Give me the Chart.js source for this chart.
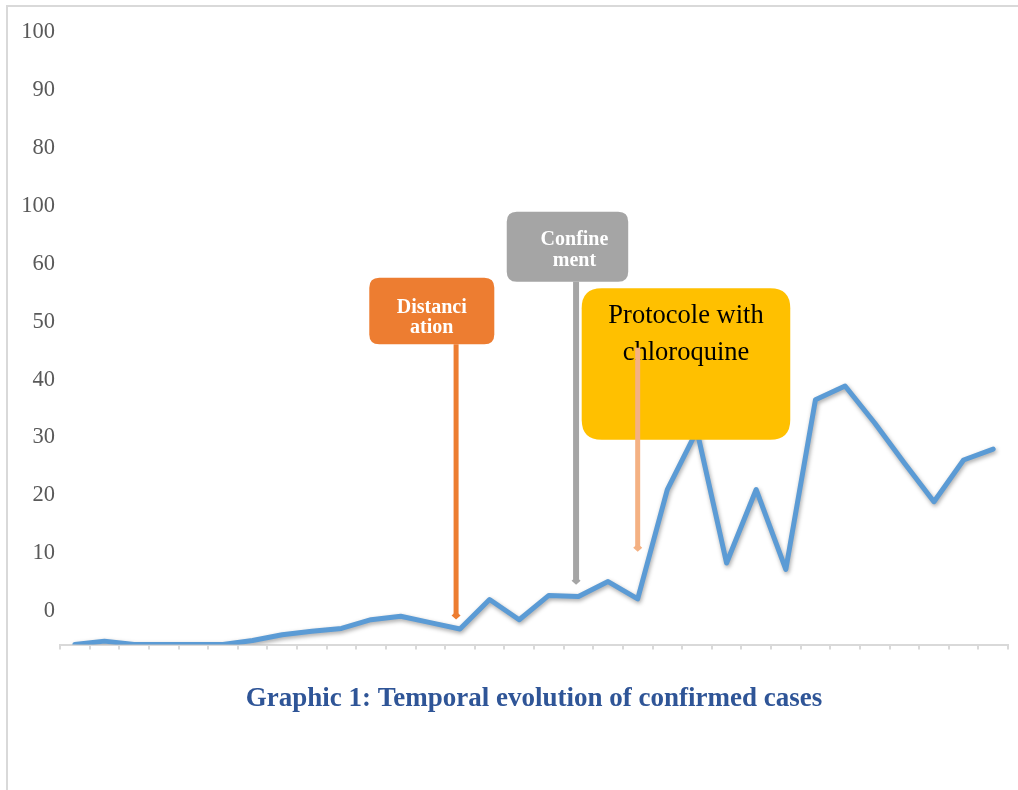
<!DOCTYPE html>
<html>
<head>
<meta charset="utf-8">
<script src="https://cdn.jsdelivr.net/npm/chart.js@4/dist/chart.umd.min.js"></script>
<style>
html,body{margin:0;padding:0;background:#fff;}
#wrap{position:relative;width:1018px;height:790px;overflow:hidden;}
#frame{position:absolute;left:6px;top:5px;width:1200px;height:900px;border-left:2px solid #d9d9d9;border-top:2px solid #d9d9d9;}
canvas{position:absolute;left:0;top:0;}
</style>
</head>
<body>
<div id="wrap"><div id="frame"></div><canvas id="c" width="1018" height="790"></canvas></div>
<script>
// ---- data ----
const days = ['1','2','3','4','5','6','7','8','9','10','11','12','13','14','15','16',
              '17','18','19','20','21','22','23','24','25','26','27','28','29','30','31','32'];
const confirmedCases = [0, 0.6, 0, 0, 0, 0, 0.7, 1.7, 2.3, 2.8, 4.3, 4.9, 3.8, 2.7, 7.8, 4.3,
                        8.5, 8.3, 10.9, 7.9, 26.8, 37, 14.1, 26.8, 13, 42.3, 44.7, 38.3, 31.4, 24.7, 31.9, 33.8];
const yTickLabels = ['0','10','20','30','40','50','60','100','80','90','100'];
const titleText = 'Graphic 1: Temporal evolution of confirmed cases';

// ---- callouts (anchored in data coordinates) ----
const callouts = [
  { lines: ['Distanci', 'ation'], box: [9.94, 14.16, 63.4, 51.9], fill: '#ED7D31', textColor: '#ffffff',
    font: 'bold 20px "Liberation Serif"', radius: 10, textTop: 30, lineGap: 20, textDx: 0,
    arrow: { x: 12.87, from: 51.9, to: 4.7, color: '#ED7D31', width: 5 }, arrowOnTop: false },
  { lines: ['Confine', 'ment'], box: [14.58, 18.68, 74.8, 62.7], fill: '#A5A5A5', textColor: '#ffffff',
    font: 'bold 20px "Liberation Serif"', radius: 10, textTop: 28, lineGap: 21, textDx: 7,
    arrow: { x: 16.92, from: 62.7, to: 10.7, color: '#A5A5A5', width: 6 }, arrowOnTop: false },
  { lines: ['Protocole with', 'chloroquine'], box: [17.11, 24.15, 61.6, 35.4], fill: '#FFC000', textColor: '#000000',
    font: '26.5px "Liberation Serif"', radius: 20, textTop: 28, lineGap: 37, textDx: 0,
    arrow: { x: 19.0, from: 51.3, to: 16.4, color: '#F4B183', width: 5 }, arrowOnTop: true }
];

function roundRect(ctx, x, y, w, h, r) {
  ctx.beginPath();
  ctx.moveTo(x + r, y);
  ctx.lineTo(x + w - r, y);
  ctx.quadraticCurveTo(x + w, y, x + w, y + r);
  ctx.lineTo(x + w, y + h - r);
  ctx.quadraticCurveTo(x + w, y + h, x + w - r, y + h);
  ctx.lineTo(x + r, y + h);
  ctx.quadraticCurveTo(x, y + h, x, y + h - r);
  ctx.lineTo(x, y + r);
  ctx.quadraticCurveTo(x, y, x + r, y);
  ctx.closePath();
}

function drawArrow(ctx, xs, ys, a) {
  const ax = xs.getPixelForValue(a.x);
  const y0 = ys.getPixelForValue(a.from);
  const y1 = ys.getPixelForValue(a.to);
  ctx.save();
  ctx.strokeStyle = a.color;
  ctx.fillStyle = a.color;
  ctx.lineWidth = a.width;
  ctx.beginPath();
  ctx.moveTo(ax, y0);
  ctx.lineTo(ax, y1 - 3);
  ctx.stroke();
  ctx.beginPath();
  ctx.moveTo(ax, y1 + 2);
  ctx.lineTo(ax + 4.5, y1 - 2);
  ctx.lineTo(ax, y1 - 6);
  ctx.lineTo(ax - 4.5, y1 - 2);
  ctx.closePath();
  ctx.fill();
  ctx.restore();
}

const calloutPlugin = {
  id: 'callouts',
  afterDatasetsDraw(chart) {
    const { ctx } = chart;
    const xs = chart.scales.x, ys = chart.scales.y;
    callouts.forEach(c => {
      const x0 = xs.getPixelForValue(c.box[0]);
      const x1 = xs.getPixelForValue(c.box[1]);
      const yt = ys.getPixelForValue(c.box[2]);
      const yb = ys.getPixelForValue(c.box[3]);
      if (!c.arrowOnTop) drawArrow(ctx, xs, ys, c.arrow);
      ctx.save();
      ctx.fillStyle = c.fill;
      roundRect(ctx, x0, yt, x1 - x0, yb - yt, c.radius);
      ctx.fill();
      ctx.fillStyle = c.textColor;
      ctx.font = c.font;
      ctx.textAlign = 'center';
      ctx.textBaseline = 'middle';
      const cx = (x0 + x1) / 2 + c.textDx;
      c.lines.forEach((t, i) => ctx.fillText(t, cx, yt + c.textTop + i * c.lineGap));
      ctx.restore();
      if (c.arrowOnTop) drawArrow(ctx, xs, ys, c.arrow);
    });
  }
};

const shadowPlugin = {
  id: 'lineShadow',
  beforeDatasetDraw(chart) {
    const ctx = chart.ctx;
    ctx.save();
    ctx.shadowColor = 'rgba(0,0,0,0.35)';
    ctx.shadowBlur = 4;
    ctx.shadowOffsetX = 1;
    ctx.shadowOffsetY = 2;
  },
  afterDatasetDraw(chart) {
    chart.ctx.restore();
  }
};

new Chart(document.getElementById('c'), {
  type: 'line',
  data: {
    labels: days,
    datasets: [{
      label: 'Confirmed cases',
      data: confirmedCases,
      borderColor: '#5B9BD5',
      borderWidth: 5,
      pointRadius: 0,
      tension: 0,
      fill: false,
      borderJoinStyle: 'round',
      borderCapStyle: 'round'
    }]
  },
  options: {
    responsive: false,
    devicePixelRatio: 1,
    animation: false,
    layout: { padding: { top: 66, right: 10, bottom: 75, left: 0 } },
    plugins: {
      legend: { display: false },
      tooltip: { enabled: false },
      title: {
        display: true,
        position: 'bottom',
        fullSize: false,
        text: titleText,
        color: '#2F5597',
        font: { family: '"Liberation Serif"', size: 27, weight: 'bold', lineHeight: 1.2 },
        padding: { top: 0, bottom: 0 }
      }
    },
    scales: {
      x: {
        type: 'category',
        offset: true,
        grid: { display: true, drawOnChartArea: false, drawTicks: true, tickLength: 5, color: '#d9d9d9', lineWidth: 2, offset: true },
        border: { display: true, color: '#d9d9d9', width: 2 },
        ticks: { display: false },
        afterFit(s) { s.height = 38; }
      },
      y: {
        min: 0,
        max: 100,
        grid: { display: false, drawTicks: false },
        border: { display: false },
        ticks: {
          stepSize: 10,
          autoSkip: false,
          labelOffset: -33.5,
          padding: 5,
          color: '#595959',
          font: { family: '"Liberation Serif"', size: 22.5 },
          callback: (v, i) => yTickLabels[i]
        },
        afterFit(s) { s.width = 60; }
      }
    }
  },
  plugins: [shadowPlugin, calloutPlugin]
});
</script>
</body>
</html>
